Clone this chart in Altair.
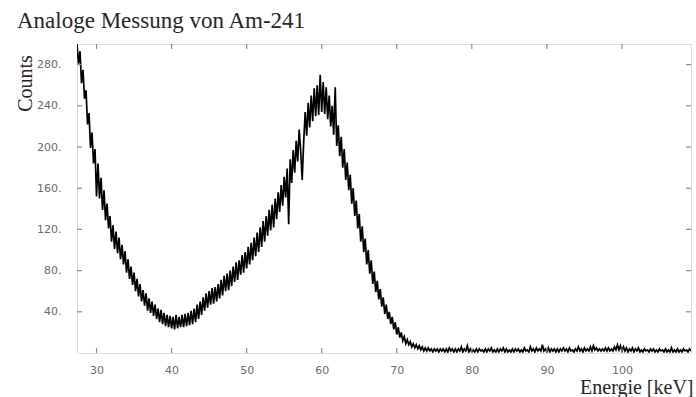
import altair as alt
import pandas as pd

# Am-241 spectrum, counts per 0.2 keV bin starting at 27.4 keV
E_START = 27.4
E_STEP = 0.2
counts = [
    300, 281, 293, 262, 275, 247, 255, 222, 233, 199,
    214, 184, 198, 152, 184, 150, 170, 139, 158, 129,
    145, 121, 133, 108, 124, 101, 118, 97, 112, 91,
    105, 86, 99, 78, 91, 72, 84, 66, 78, 60,
    72, 55, 67, 50, 61, 46, 58, 41, 53, 39,
    50, 36, 47, 33, 43, 30, 42, 28, 39, 26,
    37, 25, 36, 24, 35, 23, 37, 24, 35, 25,
    37, 25, 38, 26, 39, 27, 41, 28, 43, 30,
    47, 33, 50, 37, 54, 41, 58, 44, 60, 47,
    63, 48, 64, 50, 67, 53, 71, 56, 75, 60,
    77, 61, 80, 65, 84, 69, 88, 71, 90, 76,
    95, 78, 98, 82, 103, 86, 107, 90, 112, 94,
    117, 98, 122, 103, 128, 108, 133, 114, 139, 119,
    144, 122, 150, 130, 156, 137, 163, 143, 171, 151,
    179, 125, 188, 165, 197, 175, 206, 186, 217, 196,
    168, 205, 234, 211, 243, 219, 250, 225, 257, 230,
    260, 231, 270, 234, 263, 232, 258, 227, 250, 220,
    240, 212, 258, 201, 221, 191, 210, 180, 198, 168,
    185, 158, 173, 145, 160, 133, 148, 121, 135, 108,
    123, 98, 111, 86, 100, 77, 90, 67, 79, 59,
    70, 52, 62, 45, 54, 38, 47, 33, 40, 28,
    35, 23, 30, 18, 25, 15, 20, 12, 16, 9,
    13, 8, 11, 6, 9, 5, 8, 4, 7, 3,
    6, 2, 5, 2, 5, 2, 4, 1, 4, 2,
    4, 1, 4, 2, 4, 1, 4, 1, 5, 2,
    4, 1, 4, 1, 4, 2, 6, 1, 4, 2,
    7, 1, 4, 1, 3, 1, 4, 1, 4, 2,
    3, 1, 4, 1, 4, 2, 5, 1, 3, 1,
    4, 1, 4, 2, 5, 1, 4, 1, 3, 1,
    4, 1, 4, 2, 4, 1, 3, 1, 5, 2,
    3, 1, 6, 2, 4, 1, 5, 2, 4, 2,
    8, 2, 4, 1, 5, 1, 4, 2, 4, 1,
    4, 1, 4, 2, 5, 2, 4, 1, 5, 2,
    3, 1, 4, 2, 6, 2, 4, 1, 5, 2,
    4, 2, 6, 2, 7, 3, 5, 2, 4, 2,
    4, 2, 5, 2, 5, 2, 4, 2, 6, 3,
    8, 3, 7, 2, 6, 2, 5, 1, 4, 2,
    5, 1, 4, 2, 5, 1, 3, 1, 4, 2,
    3, 1, 4, 2, 4, 1, 3, 1, 4, 2,
    3, 1, 4, 1, 3, 1, 5, 1, 3, 1,
    4, 1, 3, 1, 4, 2, 3, 1, 4, 2,
]
energy = [round(E_START + i * E_STEP, 1) for i in range(len(counts))]

x_ticks = [30, 40, 50, 60, 70, 80, 90, 100]
y_ticks = [40, 80, 120, 160, 200, 240, 280]
x_range = [27.4, 109.2]
y_range = [0, 300]
TITLE = "Analoge Messung von Am-241"
X_TITLE = "Energie [keV]"
Y_TITLE = "Counts"

W, H = 614, 309
TICK = 5
FRAME = "#8c8c8c"
LABEL = "#6a6a6a"
TEXT = "#262626"
SERIF = "Liberation Serif"

spec = pd.DataFrame({"E": energy, "C": counts})
xt = pd.DataFrame({"E": x_ticks})
yt = pd.DataFrame({"C": y_ticks})

x_scale = alt.Scale(domain=x_range, nice=False, zero=False)
y_scale = alt.Scale(domain=y_range, nice=False, zero=False)

x_axis = alt.Axis(
    values=x_ticks, ticks=False, domain=False, grid=False,
    labelFont="DejaVu Sans", labelFontSize=11, labelColor=LABEL, labelPadding=11,
    titleFont=SERIF, titleFontSize=20, titleFontWeight="normal", titleColor=TEXT,
    titleAlign="right", titleBaseline="alphabetic", titleX=W + 2, titleY=40,
)
y_axis = alt.Axis(
    values=y_ticks, ticks=False, domain=False, grid=False,
    labelExpr="datum.label + '.'",
    labelFont="DejaVu Sans", labelFontSize=11, labelColor=LABEL, labelPadding=16,
    titleFont=SERIF, titleFontSize=20, titleFontWeight="normal", titleColor=TEXT,
    titleAngle=270, titleAlign="center", titleBaseline="alphabetic",
    titleX=-46, titleY=39,
)

x_enc = alt.X("E:Q", scale=x_scale, axis=x_axis, title=X_TITLE)
y_enc = alt.Y("C:Q", scale=y_scale, axis=y_axis, title=Y_TITLE)

line = alt.Chart(spec).mark_line(color="black", strokeWidth=1.7, clip=True).encode(
    x=x_enc, y=y_enc,
)

# inward ticks on all four sides of the frame
rule = dict(color=FRAME, strokeWidth=1.2)
bottom = alt.Chart(xt).mark_rule(**rule).encode(
    x=x_enc, y=alt.value(H), y2=alt.value(H - TICK))
top = alt.Chart(xt).mark_rule(**rule).encode(
    x=x_enc, y=alt.value(0), y2=alt.value(TICK))
left = alt.Chart(yt).mark_rule(**rule).encode(
    y=y_enc, x=alt.value(0), x2=alt.value(TICK))
right = alt.Chart(yt).mark_rule(**rule).encode(
    y=y_enc, x=alt.value(W - TICK), x2=alt.value(W))

heading = alt.Chart(pd.DataFrame({"t": [TITLE]})).mark_text(
    font=SERIF, fontSize=23, color=TEXT, align="left", baseline="alphabetic",
).encode(text="t:N", x=alt.value(-60), y=alt.value(-16))

chart = alt.layer(line, bottom, top, left, right, heading).properties(
    width=W,
    height=H,
    autosize=alt.AutoSizeParams(type="none"),
    padding={"left": 77, "top": 44, "right": 5, "bottom": 44},
).configure_view(
    stroke=FRAME, strokeWidth=1.6
).configure(background="white")

chart.save("out.html", embed_options={"renderer": "svg", "actions": False})
